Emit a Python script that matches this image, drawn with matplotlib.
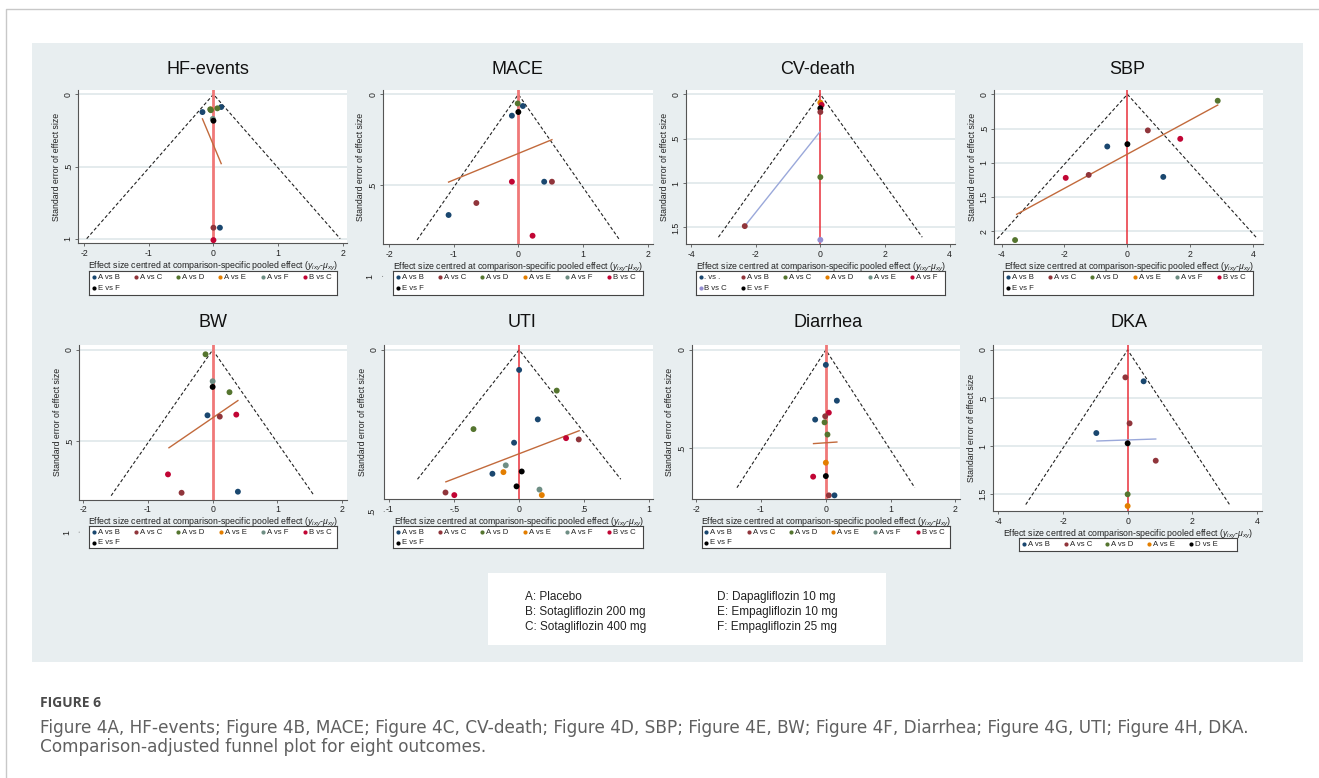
import matplotlib
matplotlib.use("Agg")
import matplotlib.pyplot as plt
import matplotlib.transforms as mtransforms
from matplotlib.patches import Rectangle
from matplotlib.lines import Line2D

plt.rcParams['font.family'] = ['Liberation Sans', 'DejaVu Sans']
plt.rcParams['mathtext.fontset'] = 'custom'
plt.rcParams['mathtext.it'] = 'Liberation Sans:italic'
plt.rcParams['mathtext.rm'] = 'Liberation Sans'

W, H = 1319, 778

# ---- data ----
legend_std = ['A vs B', 'A vs C', 'A vs D', 'A vs E', 'A vs F', 'B vs C', 'E vs F']
legend_cv = ['. vs .', 'A vs B', 'A vs C', 'A vs D', 'A vs E', 'A vs F', 'B vs C', 'E vs F']
legend_dka = ['A vs B', 'A vs C', 'A vs D', 'A vs E', 'D vs E']

hf_x = [-0.04, -0.17, 0.12, -0.05, -0.04, 0.06, -0.01, 0.0, 0.0, 0.10, 0.0]
hf_se = [0.105, 0.123, 0.088, 0.104, 0.11, 0.097, 0.17, 0.183, 0.924, 0.924, 1.01]
hf_grp = ['A vs E', 'A vs B', 'A vs B', 'A vs D', 'A vs D', 'A vs D', 'A vs F', 'E vs F',
          'A vs C', 'A vs B', 'B vs C']
hf_fit_x = [-0.17, 0.12]
hf_fit_se = [0.17, 0.48]

mace_x = [-0.01, 0.07, -0.10, 0.0, -0.10, 0.40, 0.52, -0.65, -1.08, 0.22]
mace_se = [0.05, 0.064, 0.117, 0.097, 0.48, 0.48, 0.48, 0.597, 0.663, 0.777]
mace_grp = ['A vs D', 'A vs B', 'A vs B', 'E vs F', 'B vs C', 'A vs B', 'A vs C', 'A vs C',
            'A vs B', 'B vs C']
mace_fit_x = [-1.08, 0.52]
mace_fit_se = [0.482, 0.249]

cv_x = [0.0, 0.04, 0.0, 0.0, 0.0, -2.34, 0.0]
cv_se = [0.094, 0.12, 0.158, 0.2, 0.933, 1.485, 1.64]
cv_grp = ['A vs D', 'A vs F', 'E vs F', 'A vs B', 'A vs C', 'A vs B', 'B vs C']
cv_fit_x = [-2.34, 0.0]
cv_fit_se = [1.485, 0.417]

sbp_x = [2.87, 0.65, 1.68, -0.64, 0.0, 1.14, -1.23, -1.96, -3.57]
sbp_se = [0.094, 0.527, 0.65, 0.762, 0.728, 1.206, 1.177, 1.22, 2.128]
sbp_grp = ['A vs D', 'A vs C', 'B vs C', 'A vs B', 'E vs F', 'A vs B', 'A vs C', 'B vs C', 'A vs D']
sbp_fit_x = [-3.52, 2.87]
sbp_fit_se = [1.752, 0.157]

bw_x = [-0.11, 0.0, 0.0, 0.26, -0.08, 0.11, 0.365, -0.69, -0.48, 0.39]
bw_se = [0.024, 0.172, 0.203, 0.232, 0.359, 0.366, 0.355, 0.683, 0.784, 0.778]
bw_grp = ['A vs D', 'A vs F', 'E vs F', 'A vs D', 'A vs B', 'A vs C', 'B vs C', 'B vs C',
          'A vs C', 'A vs B']
bw_fit_x = [-0.675, 0.39]
bw_fit_se = [0.537, 0.278]

uti_x = [0.0, 0.29, 0.144, -0.352, -0.039, 0.362, 0.46, -0.103, -0.121, -0.206, 0.02,
         -0.02, 0.157, 0.175, -0.568, -0.50]
uti_se = [0.062, 0.126, 0.215, 0.245, 0.287, 0.273, 0.277, 0.357, 0.378, 0.383, 0.376,
          0.422, 0.432, 0.449, 0.441, 0.449]
uti_grp = ['A vs B', 'A vs D', 'A vs B', 'A vs D', 'A vs B', 'B vs C', 'A vs C', 'A vs F',
           'A vs E', 'A vs B', 'E vs F', 'E vs F', 'A vs F', 'A vs E', 'A vs C', 'B vs C']
uti_fit_x = [-0.565, 0.463]
uti_fit_se = [0.408, 0.250]

dia_x = [0.0, 0.17, 0.046, -0.01, -0.165, -0.02, 0.025, 0.0, 0.0, -0.196, 0.046, 0.133]
dia_se = [0.076, 0.258, 0.319, 0.337, 0.354, 0.368, 0.43, 0.573, 0.641, 0.644, 0.739, 0.739]
dia_grp = ['A vs B', 'A vs B', 'B vs C', 'A vs C', 'A vs B', 'A vs D', 'A vs D', 'A vs E',
           'E vs F', 'B vs C', 'A vs C', 'A vs B']
dia_fit_x = [-0.19, 0.17]
dia_fit_se = [0.476, 0.468]

dka_x = [-0.07, 0.495, 0.06, -0.97, 0.0, 0.87, 0.0, 0.0]
dka_se = [0.285, 0.326, 0.764, 0.865, 0.972, 1.153, 1.503, 1.625]
dka_grp = ['A vs C', 'A vs B', 'A vs C', 'A vs B', 'D vs E', 'A vs C', 'A vs D', 'A vs E']
dka_fit_x = [-0.95, 0.87]
dka_fit_se = [0.948, 0.927]

# funnel extent (max standard error) per panel
funnel_se = [1.0, 0.8, 1.61, 2.11, 0.8, 0.4, 0.7, 1.61]

key_left = ['A: Placebo', 'B: Sotagliflozin 200 mg', 'C: Sotagliflozin 400 mg']
key_right = ['D: Dapagliflozin 10 mg', 'E: Empagliflozin 10 mg', 'F: Empagliflozin 25 mg']

# ---- styles ----
s2color = ['#1a476f', '#90353b', '#55752f', '#e37e00', '#6e8e84', '#c10534', '#938dd2']
BG = '#e8eef0'
SIENNA = '#c26a3c'
LAV = '#9aa8da'

def colors_for(labels):
    out = [s2color[i] for i in range(len(labels) - 1)]
    return out + ['#000000']


def px(x0, y0, x1, y1):
    return [x0 / W, 1 - y1 / H, (x1 - x0) / W, (y1 - y0) / H]


fig = plt.figure(figsize=(W / 100, H / 100), dpi=100)
fig.patch.set_facecolor('white')

# outer border + light panel
fig.add_artist(Line2D([6 / W, 6 / W, 1], [0, 1 - 9 / H, 1 - 9 / H],
                      transform=fig.transFigure, color='#c8c8c8', lw=1))
fig.add_artist(Rectangle((32 / W, 1 - 662 / H), (1303 - 32) / W, (662 - 43) / H,
                         transform=fig.transFigure, facecolor=BG, edgecolor='none', zorder=0))

panels = [
    dict(title='HF-events', tpos=(208, 69), box=(78.3, 90, 347.3, 243), xlim=(-2.09, 2.07),
         ylim=(1.03, -0.03), xt=[-2, -1, 0, 1, 2], yt=[0, 0.5, 1], x=hf_x, se=hf_se, grp=hf_grp,
         fx=hf_fit_x, fse=hf_fit_se, fc=SIENNA, leg=legend_std, lbox=(89, 271, 337, 295),
         red=('#f07878', 2.0), extra=None),
    dict(title='MACE', tpos=(517, 69), box=(382.7, 90, 652.7, 244.3), xlim=(-2.1, 2.08),
         ylim=(0.824, -0.024), xt=[-2, -1, 0, 1, 2], yt=[0, 0.5], x=mace_x, se=mace_se,
         grp=mace_grp, fx=mace_fit_x, fse=mace_fit_se, fc=SIENNA, leg=legend_std,
         lbox=(393.3, 271, 642.7, 295), red=('#f07878', 2.0), extra=(1.0, '1')),
    dict(title='CV-death', tpos=(818, 69), box=(686, 90, 955, 244.3), xlim=(-4.16, 4.17),
         ylim=(1.69, -0.048), xt=[-4, -2, 0, 2, 4], yt=[0, 0.5, 1, 1.5], x=cv_x, se=cv_se,
         grp=cv_grp, fx=cv_fit_x, fse=cv_fit_se, fc=LAV, leg=legend_cv,
         lbox=(696, 271, 945, 295), red=('#e8303a', 1.1), extra=None),
    dict(title='SBP', tpos=(1127, 69), box=(994.3, 90, 1262.7, 244.3), xlim=(-4.23, 4.30),
         ylim=(2.19, -0.063), xt=[-4, -2, 0, 2, 4], yt=[0, 0.5, 1, 1.5, 2], x=sbp_x,
         se=sbp_se, grp=sbp_grp, fx=sbp_fit_x, fse=sbp_fit_se, fc=SIENNA, leg=legend_std,
         lbox=(1003.3, 271, 1252.7, 295), red=('#e8303a', 1.1), extra=None),
    dict(title='BW', tpos=(213, 323), box=(79.3, 345, 347.3, 499.7), xlim=(-2.06, 2.08),
         ylim=(0.822, -0.027), xt=[-2, -1, 0, 1, 2], yt=[0, 0.5], x=bw_x, se=bw_se,
         grp=bw_grp, fx=bw_fit_x, fse=bw_fit_se, fc=SIENNA, leg=legend_std,
         lbox=(89.3, 525.7, 336.7, 548.3), red=('#f07878', 2.0), extra=(1.0, '1')),
    dict(title='UTI', tpos=(522, 323), box=(384.3, 345, 653.3, 499.3), xlim=(-1.04, 1.035),
         ylim=(0.462, -0.015), xt=[-1, -0.5, 0, 0.5, 1], yt=[0], x=uti_x, se=uti_se,
         grp=uti_grp, fx=uti_fit_x, fse=uti_fit_se, fc=SIENNA, leg=legend_std,
         lbox=(393.3, 525.7, 642.7, 548.3), red=('#e8303a', 1.1), extra=(0.5, '.5')),
    dict(title='Diarrhea', tpos=(828, 323), box=(691.7, 345, 960, 499.3), xlim=(-2.07, 2.07),
         ylim=(0.759, -0.025), xt=[-2, -1, 0, 1, 2], yt=[0, 0.5], x=dia_x, se=dia_se,
         grp=dia_grp, fx=dia_fit_x, fse=dia_fit_se, fc=SIENNA, leg=legend_std,
         lbox=(701.7, 525.7, 950, 548.3), red=('#f07878', 2.0), extra=None),
    dict(title='DKA', tpos=(1129, 323), box=(993.3, 345, 1262.3, 511), xlim=(-4.16, 4.17),
         ylim=(1.677, -0.052), xt=[-4, -2, 0, 2, 4], yt=[0, 0.5, 1, 1.5], x=dka_x, se=dka_se,
         grp=dka_grp, fx=dka_fit_x, fse=dka_fit_se, fc=LAV, leg=legend_dka,
         lbox=(1019.3, 537.7, 1236.7, 550.7), red=('#e8303a', 1.1), extra=None),
]


def fmt(v):
    s = ('%g' % v)
    return s.replace('0.', '.') if abs(v) < 1 and v != 0 else s


for p, smax in zip(panels, funnel_se):
    fig.text(p['tpos'][0] / W, 1 - p['tpos'][1] / H, p['title'], ha='center', va='center',
             fontsize=13, color='#111111')
    ax = fig.add_axes(px(*p['box']))
    ax.set_facecolor('white')
    ax.set_xlim(*p['xlim'])
    ax.set_ylim(*p['ylim'])
    for s in ['top', 'right']:
        ax.spines[s].set_visible(False)
    for s in ['left', 'bottom']:
        ax.spines[s].set_color('#555555')
        ax.spines[s].set_linewidth(0.8)
    ax.set_xticks(p['xt'])
    ax.set_xticklabels([fmt(v) for v in p['xt']])
    ax.set_yticks(p['yt'])
    ax.set_yticklabels([fmt(v) for v in p['yt']])
    ax.tick_params(labelsize=6.3, length=2.5, width=0.6, color='#555555', pad=1.5,
                   labelcolor='#222222')
    ax.tick_params(axis='y', labelrotation=90)
    for lab in ax.get_yticklabels():
        lab.set_va('center')
    for v in p['yt']:
        ax.axhline(v, color='#dfe7ea', lw=1.2, zorder=0)
    ax.set_xlabel(r'Effect size centred at comparison-specific pooled effect ($y_{ixy}$-$\mu_{xy}$)',
                  fontsize=6.3, labelpad=1.5, color='#222222')
    ax.set_ylabel('Standard error of effect size', fontsize=6.3, labelpad=2, color='#222222')

    # funnel and zero line
    ax.plot([-1.96 * smax, 0, 1.96 * smax], [smax, 0, smax], color='#222222', lw=0.8,
            dashes=(3, 2))
    ax.axvline(0, color=p['red'][0], lw=p['red'][1], zorder=2)
    ax.plot(p['fx'], p['fse'], color=p['fc'], lw=1.0, zorder=3)

    cols = dict(zip(p['leg'], colors_for(p['leg'])))
    ax.scatter(p['x'], p['se'], s=18, c=[cols[g] for g in p['grp']], zorder=4,
               clip_on=False, linewidths=0)

    if p['extra'] is not None:
        yv, txt = p['extra']
        tr = mtransforms.offset_copy(ax.get_yaxis_transform(), fig=fig, x=-8, y=0,
                                     units='dots')
        ax.text(0, yv, txt, transform=tr, rotation=90, ha='right', va='center', fontsize=6.3,
                color='#222222')
        ax.annotate('', xy=(0, yv), xycoords=ax.get_yaxis_transform(), xytext=(-3, 0),
                    textcoords='offset pixels',
                    arrowprops=dict(arrowstyle='-', lw=0.6, color='#555555'))

    # legend box
    x0, y0, x1, y1 = p['lbox']
    lax = fig.add_axes(px(x0, y0, x1, y1))
    lax.set_xlim(x0, x1)
    lax.set_ylim(y1, y0)
    lax.set_xticks([])
    lax.set_yticks([])
    lax.set_facecolor('white')
    for s in lax.spines.values():
        s.set_color('#444444')
        s.set_linewidth(0.8)
    step = 41.7 if len(p['leg']) == 5 else 42.3
    for i, lab in enumerate(p['leg']):
        r, c = divmod(i, 6)
        mx = x0 + 4.5 + c * step
        my = y0 + 6.3 + r * 11
        lax.scatter([mx], [my], s=9, color=cols[lab], linewidths=0)
        lax.text(mx + 4, my, lab, va='center', ha='left', fontsize=5.6, color='#222222')

# treatment key
kax = fig.add_axes(px(488, 573, 886, 645))
kax.set_xlim(488, 886)
kax.set_ylim(645, 573)
kax.axis('off')
kax.add_patch(Rectangle((488, 573), 398, 72, facecolor='white', edgecolor='none'))
for i, (a, b) in enumerate(zip(key_left, key_right)):
    yy = 597 + i * 15.2
    kax.text(525, yy, a, va='center', ha='left', fontsize=8.5, color='#222222')
    kax.text(717, yy, b, va='center', ha='left', fontsize=8.5, color='#222222')

# caption
fig.text(40 / W, 1 - 703 / H, 'FIGURE 6', ha='left', va='center', fontsize=10,
         fontweight='bold', color='#4a4a4a', family=['Open Sans', 'DejaVu Sans'])
fig.text(40 / W, 1 - 728 / H,
         'Figure 4A, HF-events; Figure 4B, MACE; Figure 4C, CV-death; Figure 4D, SBP; '
         'Figure 4E, BW; Figure 4F, Diarrhea; Figure 4G, UTI; Figure 4H, DKA.',
         ha='left', va='center', fontsize=12.2, color='#606060', family=['DejaVu Sans'])
fig.text(40 / W, 1 - 747 / H, 'Comparison-adjusted funnel plot for eight outcomes.',
         ha='left', va='center', fontsize=12.2, color='#606060', family=['DejaVu Sans'])

fig.savefig('out.png', dpi=100, facecolor='white')
